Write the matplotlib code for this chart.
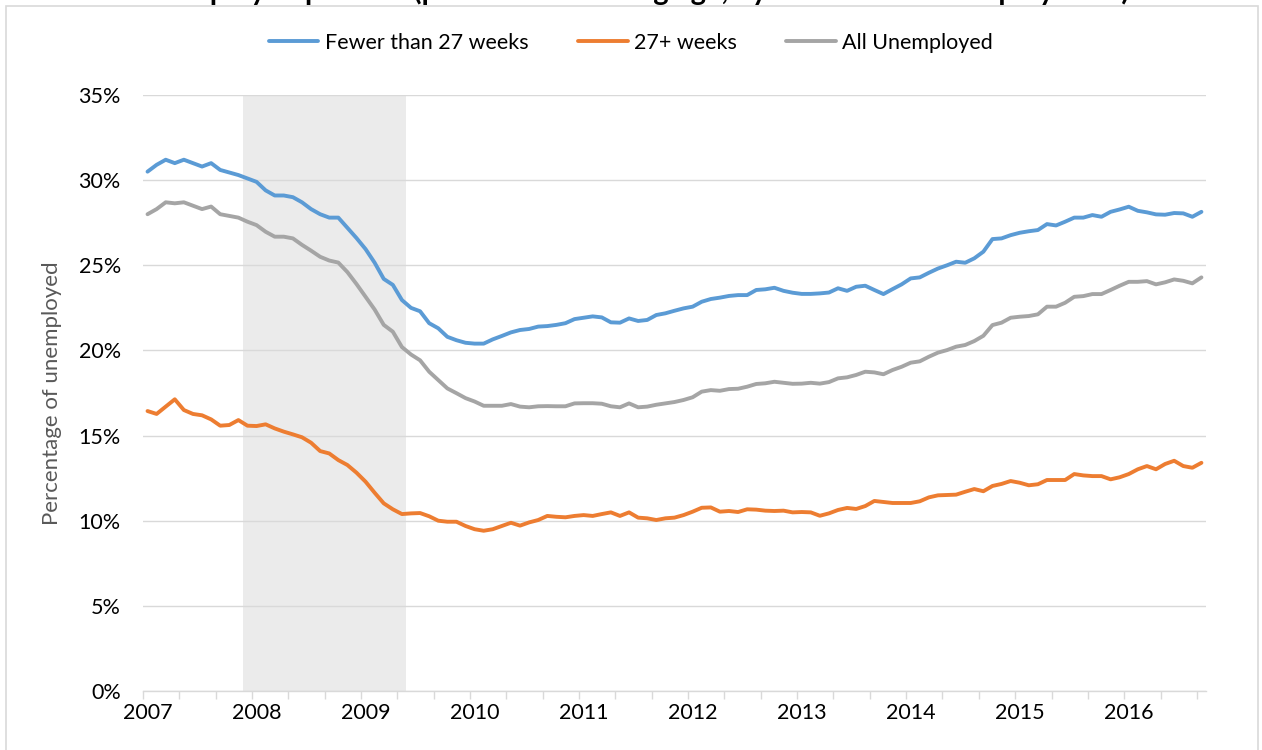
import matplotlib
matplotlib.use("Agg")
import matplotlib.pyplot as plt
from matplotlib.patches import Rectangle
import numpy as np
import pandas as pd

plt.rcParams.update({
    "font.family": ["Lato", "DejaVu Sans"],
    "font.size": 15,
})

# monthly categories, Jan 2007 .. Sep 2016
months = pd.period_range("2007-01", "2016-09", freq="M")

fewer_27 = [
    30.5, 30.9, 31.2, 31.0, 31.2, 31.0, 30.8, 31.0, 30.6, 30.45, 30.3, 30.1,
    29.9, 29.4, 29.1, 29.1, 29.0, 28.7, 28.3, 28.0, 27.8, 27.8, 27.2, 26.6,
    25.95, 25.15, 24.2, 23.85, 22.96, 22.5, 22.3, 21.6, 21.3, 20.8, 20.6, 20.45,
    20.4, 20.4, 20.65, 20.85, 21.06, 21.2, 21.26, 21.4, 21.43, 21.5, 21.6, 21.84,
    21.92, 22.0, 21.94, 21.65, 21.63, 21.88, 21.73, 21.79, 22.08, 22.18, 22.33, 22.47,
    22.57, 22.86, 23.02, 23.1, 23.2, 23.25, 23.25, 23.55, 23.59, 23.68, 23.5, 23.39,
    23.32, 23.32, 23.35, 23.4, 23.65, 23.5, 23.74, 23.8, 23.55, 23.31, 23.6, 23.88,
    24.23, 24.29, 24.56, 24.81, 25.0, 25.21, 25.15, 25.41, 25.8, 26.54, 26.58, 26.77,
    26.91, 27.0, 27.07, 27.42, 27.34, 27.56, 27.8, 27.8, 27.95, 27.85, 28.14, 28.28,
    28.44, 28.2, 28.11, 27.99, 27.97, 28.07, 28.05, 27.85, 28.14,
]

weeks_27plus = [
    16.44, 16.27, 16.7, 17.13, 16.5, 16.27, 16.19, 15.95, 15.58, 15.62, 15.91, 15.58,
    15.56, 15.66, 15.42, 15.23, 15.07, 14.9, 14.58, 14.09, 13.95, 13.56, 13.27, 12.82,
    12.29, 11.64, 11.02, 10.67, 10.39, 10.43, 10.45, 10.26, 10.0, 9.94, 9.94, 9.69,
    9.5, 9.41, 9.5, 9.69, 9.88, 9.71, 9.9, 10.04, 10.28, 10.23, 10.2, 10.28,
    10.33, 10.28, 10.39, 10.49, 10.28, 10.49, 10.18, 10.14, 10.04, 10.14, 10.18, 10.33,
    10.53, 10.76, 10.78, 10.53, 10.57, 10.51, 10.67, 10.65, 10.59, 10.57, 10.59, 10.49,
    10.51, 10.49, 10.29, 10.43, 10.63, 10.75, 10.69, 10.86, 11.16, 11.1, 11.04, 11.04,
    11.04, 11.14, 11.37, 11.49, 11.51, 11.53, 11.7, 11.86, 11.73, 12.04, 12.16, 12.33,
    12.23, 12.08, 12.14, 12.39, 12.39, 12.39, 12.74, 12.66, 12.62, 12.62, 12.43, 12.55,
    12.74, 13.02, 13.21, 13.02, 13.33, 13.52, 13.21, 13.11, 13.4,
]

all_unemployed = [
    28.0, 28.3, 28.7, 28.64, 28.7, 28.5, 28.3, 28.45, 28.0, 27.9, 27.8, 27.56,
    27.36, 26.97, 26.68, 26.68, 26.58, 26.2, 25.86, 25.5, 25.28, 25.16, 24.6, 23.9,
    23.15, 22.4, 21.5, 21.1, 20.2, 19.76, 19.42, 18.75, 18.26, 17.77, 17.49, 17.2,
    17.0, 16.75, 16.75, 16.75, 16.85, 16.7, 16.66, 16.72, 16.73, 16.72, 16.72, 16.89,
    16.9, 16.9, 16.87, 16.72, 16.66, 16.89, 16.66, 16.7, 16.81, 16.89, 16.97, 17.09,
    17.25, 17.58, 17.67, 17.63, 17.73, 17.75, 17.87, 18.03, 18.07, 18.16, 18.1, 18.04,
    18.05, 18.1, 18.05, 18.14, 18.36, 18.42, 18.56, 18.75, 18.71, 18.6, 18.85, 19.04,
    19.28, 19.36, 19.63, 19.87, 20.02, 20.22, 20.32, 20.55, 20.86, 21.49, 21.63, 21.92,
    21.98, 22.02, 22.12, 22.57, 22.57, 22.8, 23.15, 23.19, 23.31, 23.31, 23.55, 23.8,
    24.03, 24.03, 24.07, 23.88, 24.0, 24.17, 24.09, 23.94, 24.29,
]

# recession band: Dec 2007 .. May 2009
recession = ("2007-12", "2009-05")

SERIES = [
    ("Fewer than 27 weeks", fewer_27, "#5B9BD5"),
    ("27+ weeks", weeks_27plus, "#ED7D31"),
    ("All Unemployed", all_unemployed, "#A5A5A5"),
]

x = np.arange(len(months))

fig = plt.figure(figsize=(12.62, 7.5), dpi=100)
ax = fig.add_axes([0.1133, 0.0787, 0.8423, 0.7946])

# outer chart frame
fig.patches.append(Rectangle((6 / 1262, -0.05), 1252 / 1262, 1.05 - 6 / 750,
                             transform=fig.transFigure, fill=False,
                             edgecolor="#D9D9D9", linewidth=1.2))

# title is cut off by the top edge in the source image
fig.text(0.5, 1.0, "Unemployed persons (percent of working age, by duration of unemployment)",
         ha="center", va="baseline", fontsize=21, fontweight="bold", color="black")

r0 = months.get_loc(pd.Period(recession[0], "M"))
r1 = months.get_loc(pd.Period(recession[1], "M"))
ax.axvspan(r0 - 0.5, r1 + 0.5, color="#EBEBEB", lw=0, zorder=0)

for label, vals, col in SERIES:
    ax.plot(x, vals, color=col, lw=2.8, label=label, zorder=3,
            solid_joinstyle="round", solid_capstyle="round")

ax.set_xlim(-0.5, len(months) - 0.5)
ax.set_ylim(0, 35)
ax.set_yticks(np.arange(0, 36, 5))
ax.set_yticklabels([f"{v}%" for v in range(0, 36, 5)])
ax.yaxis.grid(True, color="#D9D9D9", lw=1.0)
ax.set_axisbelow(True)

year_pos = [i for i, m in enumerate(months) if m.month == 1]
ax.set_xticks(year_pos)
ax.set_xticklabels([str(months[i].year) for i in year_pos])
ax.set_xticks(np.arange(-0.5, len(months) - 0.5, 4), minor=True)
ax.tick_params(axis="x", which="major", length=0, pad=9, labelsize=15.5)
ax.tick_params(axis="x", which="minor", length=6, color="#D9D9D9", width=1.0)
ax.tick_params(axis="y", length=0, pad=16, labelsize=15.5)

for s in ["top", "right", "left"]:
    ax.spines[s].set_visible(False)
ax.spines["bottom"].set_color("#D9D9D9")
ax.spines["bottom"].set_linewidth(1.0)
ax.spines["bottom"].set_zorder(4)

ax.set_ylabel("Percentage of unemployed", color="#595959", fontsize=16, labelpad=12)

fig.legend(loc="center", bbox_to_anchor=(0.5, 1 - 43 / 750), ncol=3, frameon=False,
           handlelength=2.3, handletextpad=0.3, columnspacing=2.3, fontsize=15.5)

fig.savefig("out.png", dpi=100)
